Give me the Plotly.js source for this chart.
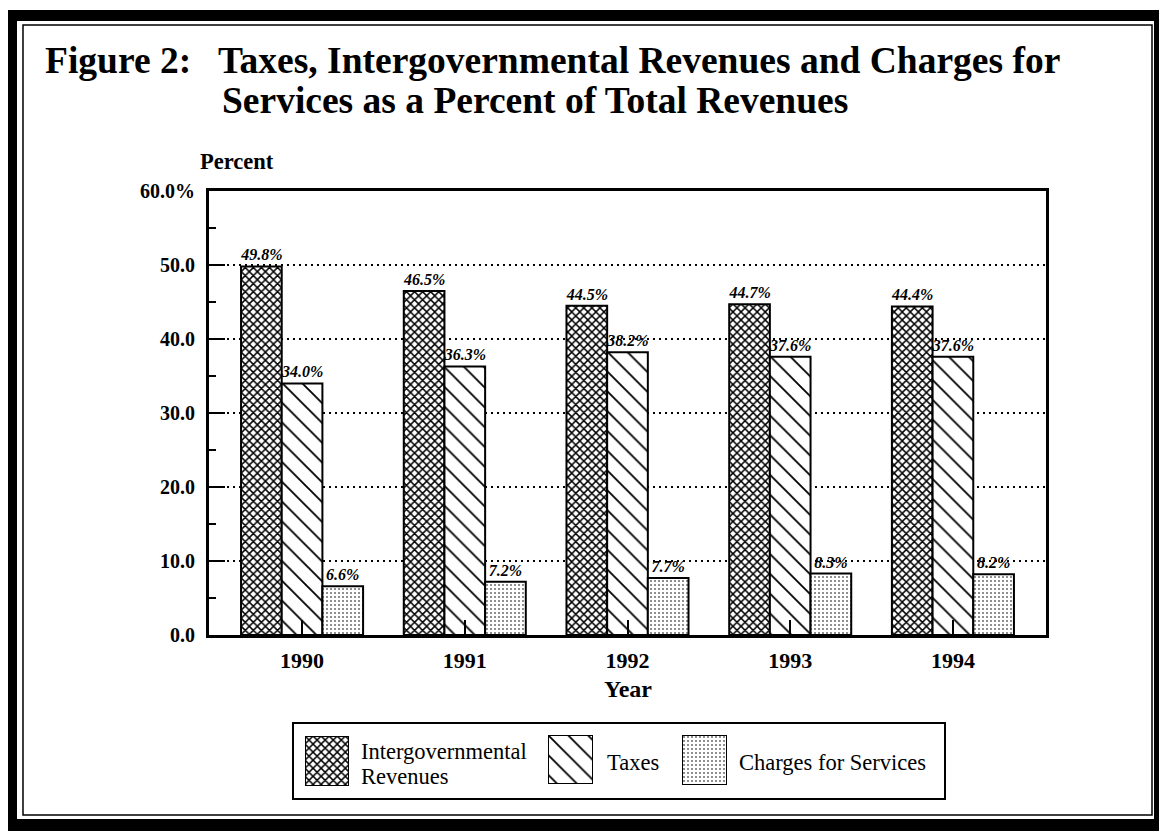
<!DOCTYPE html>
<html>
<head>
<meta charset="utf-8">
<script src="https://cdn.plot.ly/plotly-3.0.1.min.js"></script>
<style>html,body{margin:0;padding:0;background:#fff;}#chart{width:1159px;height:831px;}</style>
</head>
<body>
<div id="chart"></div>
<script>
// ---- data ----
var years = ['1990', '1991', '1992', '1993', '1994'];
var intergovernmental = [49.8, 46.5, 44.5, 44.7, 44.4];
var taxes = [34.0, 36.3, 38.2, 37.6, 37.6];
var charges = [6.6, 7.2, 7.7, 8.3, 8.2];
var seriesNames = ['Intergovernmental<br>Revenues', 'Taxes', 'Charges for Services'];
var yTickVals = [0, 10, 20, 30, 40, 50, 60];
var yTickText = ['0.0', '10.0', '20.0', '30.0', '40.0', '50.0', '60.0%'];

// ---- layout helpers ----
var W = 1159, H = 831;
function px(x) { return x / W; }
function py(y) { return 1 - y / H; }
var SERIF = 'Liberation Serif, Times New Roman, Times, serif';

var patterns = [
  {shape: 'x', size: 5.7, solidity: 0.45, fgcolor: 'black', bgcolor: 'white', fillmode: 'replace'},
  {shape: '\\', size: 14, solidity: 0.13, fgcolor: 'black', bgcolor: 'white', fillmode: 'replace'},
  {shape: '.', size: 4, solidity: 0.13, fgcolor: 'black', bgcolor: 'white', fillmode: 'replace'}
];
var series = [intergovernmental, taxes, charges];

var traces = [];
series.forEach(function (vals, i) {
  traces.push({
    type: 'bar', x: years, y: vals, name: seriesNames[i],
    xaxis: 'x', yaxis: 'y',
    marker: {color: 'white', pattern: patterns[i], line: {color: 'black', width: 2}},
    texttemplate: '%{y:.1f}%', textposition: 'outside', constraintext: 'none',
    textfont: {family: SERIF, size: 16, color: 'black', weight: 'bold', style: 'italic'},
    cliponaxis: false, showlegend: false, hoverinfo: 'skip'
  });
});

// legend swatches (one small axis pair each)
var swatchBoxes = [[305, 349, 736, 786], [548, 593, 735, 784], [682, 727, 735, 785]];
var extraAxes = {};
swatchBoxes.forEach(function (b, i) {
  var n = i + 2;
  traces.push({
    type: 'bar', x: [0], y: [1], width: [1], xaxis: 'x' + n, yaxis: 'y' + n,
    marker: {color: 'white', pattern: patterns[i], line: {color: 'black', width: 2}},
    cliponaxis: false, showlegend: false, hoverinfo: 'skip', textposition: 'none'
  });
  extraAxes['xaxis' + n] = {domain: [px(b[0]), px(b[1])], range: [-0.5, 0.5], visible: false, fixedrange: true, anchor: 'y' + n};
  extraAxes['yaxis' + n] = {domain: [py(b[3]), py(b[2])], range: [0, 1], visible: false, fixedrange: true, anchor: 'x' + n};
});

var shapes = [
  // outer thick frame
  {type: 'rect', xref: 'paper', yref: 'paper', x0: px(8), x1: px(17), y0: py(831), y1: py(10), fillcolor: 'black', line: {width: 0}},
  {type: 'rect', xref: 'paper', yref: 'paper', x0: px(8), x1: px(1159), y0: py(21), y1: py(10), fillcolor: 'black', line: {width: 0}},
  {type: 'rect', xref: 'paper', yref: 'paper', x0: px(1154), x1: px(1159), y0: py(831), y1: py(10), fillcolor: 'black', line: {width: 0}},
  {type: 'rect', xref: 'paper', yref: 'paper', x0: px(8), x1: px(1159), y0: py(831), y1: py(819), fillcolor: 'black', line: {width: 0}},
  // inner thin frame
  {type: 'rect', xref: 'paper', yref: 'paper', x0: px(23), x1: px(1152), y0: py(815), y1: py(25), line: {color: 'black', width: 1.5}},
  // legend box
  {type: 'rect', xref: 'paper', yref: 'paper', x0: px(293), x1: px(945), y0: py(799), y1: py(723), line: {color: 'black', width: 2}}
];

var legendLines = seriesNames[0].split('<br>');
function ann(text, x, y, size, anchor) {
  return {text: text, x: px(x), y: py(y), xref: 'paper', yref: 'paper', xanchor: anchor || 'left', yanchor: 'middle',
          align: 'left', showarrow: false, font: {family: SERIF, size: size, color: 'black'}};
}
var annotations = [
  ann('<b>Figure 2:</b>', 43, 60, 37.5),
  ann('<b>Taxes, Intergovernmental Revenues and Charges for</b>', 216, 60, 37.5),
  ann('<b>Services as a Percent of Total Revenues</b>', 220, 100, 37.5),
  ann('<b>Percent</b>', 198, 161, 22.5),
  ann('<b>Year</b>', 628, 689, 24, 'center'),
  ann(legendLines[0], 359, 751, 22.5),
  ann(legendLines[1], 359, 776, 22.5),
  ann(seriesNames[1], 605, 762, 22.5),
  ann(seriesNames[2], 737, 762, 22.5)
];

var layout = {
  width: W, height: H,
  margin: {l: 0, r: 0, t: 0, b: 0, pad: 0},
  paper_bgcolor: 'white', plot_bgcolor: 'white',
  showlegend: false,
  barmode: 'group', bargap: 0.25, bargroupgap: 0,
  xaxis: {
    domain: [px(209), px(1046)], anchor: 'y', type: 'category',
    range: [-0.572, 4.572], showline: true, mirror: true, linecolor: 'black', linewidth: 3,
    ticks: 'inside', ticklen: 15, tickwidth: 2, tickcolor: 'black',
    showgrid: false, zeroline: false, ticklabelstandoff: 4,
    tickfont: {family: SERIF, size: 22, color: 'black', weight: 'bold'}, fixedrange: true
  },
  yaxis: {
    domain: [py(635), py(191)], anchor: 'x',
    range: [0, 60], tickvals: yTickVals, ticktext: yTickText,
    showline: true, mirror: true, linecolor: 'black', linewidth: 3,
    ticks: 'inside', ticklen: 16, tickwidth: 2, tickcolor: 'black',
    minor: {dtick: 5, tick0: 0, ticks: 'inside', ticklen: 7, tickwidth: 2, tickcolor: 'black', showgrid: false},
    showgrid: true, gridcolor: 'black', gridwidth: 2, griddash: '2px,4px',
    zeroline: false, ticklabelstandoff: 7,
    tickfont: {family: SERIF, size: 20, color: 'black', weight: 'bold'}, fixedrange: true
  },
  shapes: shapes,
  annotations: annotations
};
Object.keys(extraAxes).forEach(function (k) { layout[k] = extraAxes[k]; });

Plotly.newPlot('chart', traces, layout, {staticPlot: true, displayModeBar: false});
</script>
</body>
</html>
